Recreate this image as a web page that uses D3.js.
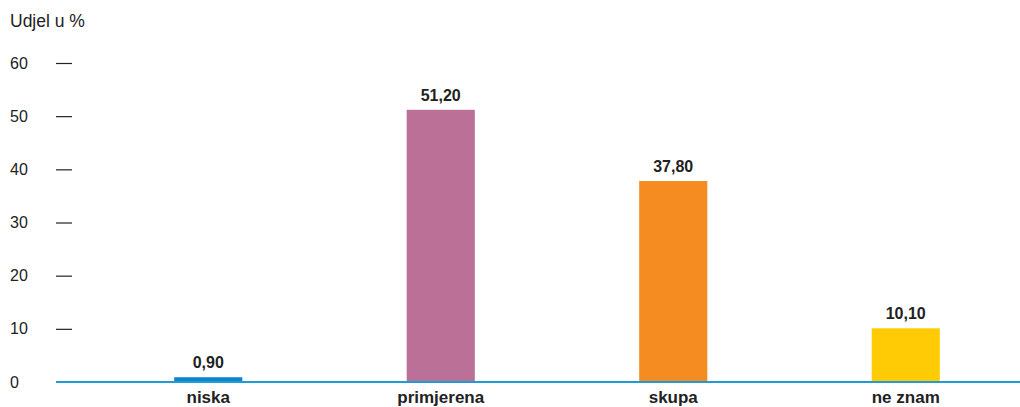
<!DOCTYPE html>
<html>
<head>
<meta charset="utf-8">
<script src="https://cdn.jsdelivr.net/npm/d3@7"></script>
<style>
  body { margin: 0; background: #fff; }
  svg { font-family: "Liberation Sans", Arial, sans-serif; }
</style>
</head>
<body>
<svg width="1020" height="407"></svg>
<script>
// data
const categories = ["niska", "primjerena", "skupa", "ne znam"];
const values = [0.9, 51.2, 37.8, 10.1];
const barColors = ["#0a86cc", "#bb7097", "#f48c22", "#fecb05"];
const tickValues = [0, 10, 20, 30, 40, 50, 60];

const svg = d3.select("svg");

const y = d3.scaleLinear().domain([0, 60]).range([382, 63]);

const x = d3.scaleBand()
  .domain(categories)
  .range([92, 1022])
  .paddingInner(0.707)
  .paddingOuter(0.3535);

// y axis title
svg.append("text")
  .attr("x", 10)
  .attr("y", 27)
  .attr("font-size", 17.5)
  .attr("fill", "#222")
  .text("Udjel u %");

// y axis: short dashes + labels
const yAxis = svg.append("g")
  .attr("transform", "translate(72,0)")
  .call(d3.axisLeft(y).tickValues(tickValues).tickSize(16).tickFormat(d3.format("d")));

yAxis.select(".domain").remove();
yAxis.selectAll(".tick line").attr("stroke", "#222").attr("stroke-width", 1.2);
yAxis.selectAll(".tick text")
  .attr("x", -62)
  .attr("text-anchor", "start")
  .attr("font-size", 16)
  .attr("font-family", "Liberation Sans, Arial, sans-serif")
  .attr("fill", "#222");
// the 0 tick has no dash
yAxis.selectAll(".tick").filter(d => d === 0).select("line").remove();

// bars
svg.append("g")
  .selectAll("rect")
  .data(categories)
  .join("rect")
  .attr("x", d => x(d))
  .attr("width", x.bandwidth())
  .attr("y", (d, i) => y(values[i]))
  .attr("height", (d, i) => y(0) - y(values[i]))
  .attr("fill", (d, i) => barColors[i]);

// baseline
svg.append("line")
  .attr("x1", 56)
  .attr("x2", 1020)
  .attr("y1", y(0))
  .attr("y2", y(0))
  .attr("stroke", "#1f9bd7")
  .attr("stroke-width", 2.2);

// value labels
svg.append("g")
  .selectAll("text")
  .data(categories)
  .join("text")
  .attr("x", d => x(d) + x.bandwidth() / 2)
  .attr("y", (d, i) => y(values[i]) - 9)
  .attr("text-anchor", "middle")
  .attr("font-size", 16)
  .attr("font-weight", "bold")
  .attr("fill", "#222")
  .text((d, i) => d3.format(".2f")(values[i]).replace(".", ","));

// category labels
svg.append("g")
  .selectAll("text")
  .data(categories)
  .join("text")
  .attr("x", d => x(d) + x.bandwidth() / 2)
  .attr("y", 403)
  .attr("text-anchor", "middle")
  .attr("font-size", 17)
  .attr("font-weight", "bold")
  .attr("fill", "#222")
  .text(d => d);
</script>
</body>
</html>
